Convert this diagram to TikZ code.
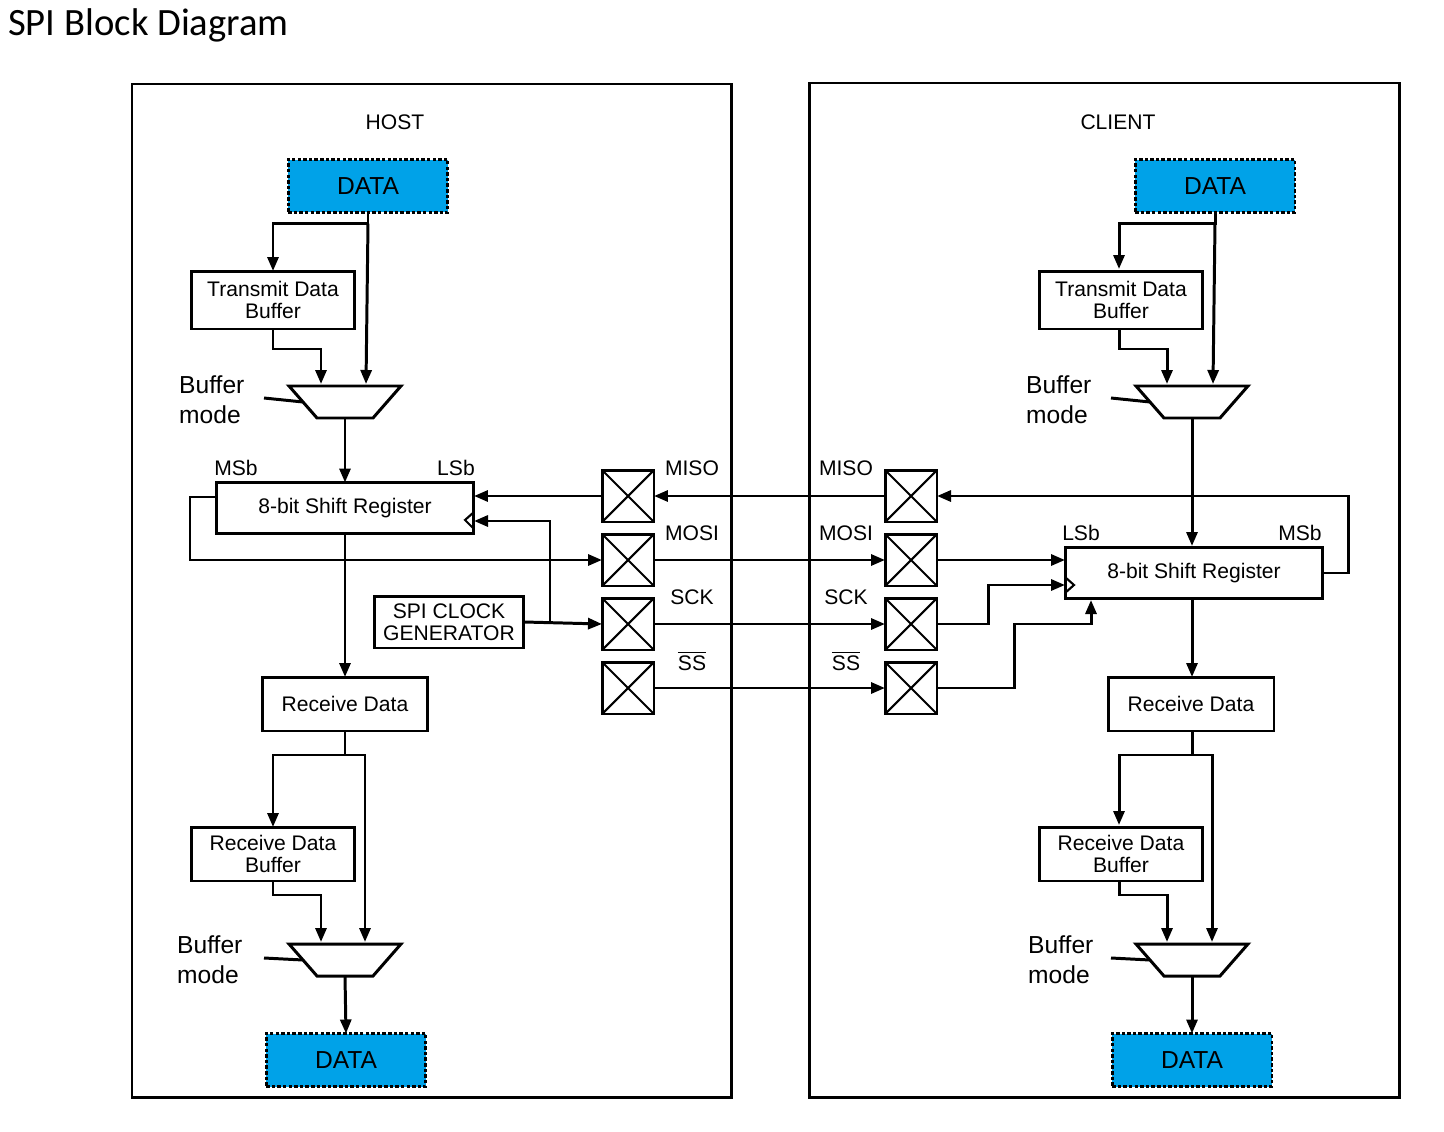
\documentclass[tikz,border=0pt]{standalone}
\usepackage{fontspec}
\setmainfont{Liberation Sans}
\newfontfamily\titlefont{Carlito}
\usetikzlibrary{arrows.meta,calc,positioning}

% ------------------------------------------------ spi colours and styles
\definecolor{spi_blue}{RGB}{0,162,232}
\tikzset{
  wire/.style={line width=1.7pt},
  arr/.style={wire,-{Triangle[length=0.28cm,width=0.22cm]}},
  blk/.style={draw,line width=1.7pt,inner sep=0,outer sep=0,align=center,
              font=\fontsize{12}{13}\selectfont},
  dat/.style={blk,fill=spi_blue,dash pattern=on 2pt off 1.2pt,
              minimum width=3.2cm,minimum height=1.06cm,font=\fontsize{14}{15}\selectfont},
  pin/.style={draw,line width=1.7pt,inner sep=0,outer sep=0,minimum size=1.04cm},
  lbl/.style={font=\fontsize{12}{13}\selectfont},
  mlbl/.style={font=\fontsize{14}{17}\selectfont,align=left,anchor=west},
}

% mux: name, centre x, top y
\newcommand{\spimux}[3]{
\draw[line width=1.7pt] (#2-56,#3) -- (#2+56,#3) -- (#2+28,#3+32) -- (#2-28,#3+32) -- cycle;
\coordinate (#1out) at (#2,#3+32);
\coordinate (#1l) at (#2-42,#3+16);
}

\begin{document}
\begin{tikzpicture}[x=0.02cm,y=-0.02cm]
\useasboundingbox (0,0) rectangle (1444,1132);
\node[anchor=west,font=\titlefont\fontsize{22}{24}\selectfont] at (2,25) {SPI Block Diagram};

% frames
\draw[line width=1.7pt] (132,84) rectangle (731,1097);
\draw[line width=1.7pt] (809,83) rectangle (1399,1097);
\node[lbl] (host) at (395,122) {HOST};
\node[lbl] (client) at (1118,122) {CLIENT};

% ------------------------------------------------ host
\node[dat] (hD) at (368,186) {DATA};
\node[blk,minimum width=3.26cm,minimum height=1.16cm] (hT) at (273,300) {Transmit Data\\Buffer};
\spimux{hM}{345}{386}
\node[mlbl] (hbm) at (173,400) {Buffer\\mode};
\node[blk,minimum width=5.16cm,minimum height=1.02cm] (hS) at (345,508) {8-bit Shift Register};
\node[lbl] (hmsb) at (236,468) {MSb};
\node[lbl] (hlsb) at (456,468) {LSb};
\node[blk,minimum width=3.0cm,minimum height=1.04cm,font=\fontsize{12}{12.5}\selectfont] (hG) at (449,622) {SPI CLOCK\\GENERATOR};
\node[blk,minimum width=3.32cm,minimum height=1.08cm] (hR) at (345,704) {Receive Data};
\node[blk,minimum width=3.26cm,minimum height=1.08cm] (hB) at (273,854) {Receive Data\\Buffer};
\spimux{hN}{345}{944}
\node[mlbl] (hbn) at (171,960) {Buffer\\mode};
\node[dat] (hE) at (346,1060) {DATA};

\draw[arr] (hD.south) -- ++(0,11) -| (hT.north);
\draw[arr] ($(hD.south)+(0,11)$) -- (366,384);
\draw[arr] (hT.south) -- ++(0,20) -| (321,384);
\draw[wire] (264,398) -- (hMl);
\draw[arr] (hMout) -- (hS.north);
\draw[line width=1.2pt] (474,512) -- (465,520) -- (474,529);
\draw[arr] (hS.south) -- (hR.north);
\draw[arr] (hR.south) -- ++(0,24) -| (hB.north);
\draw[arr] ($(hR.south)+(0,24)$) -| (365,942);
\draw[arr] (hB.south) -- ++(0,14) -| (321,942);
\draw[wire] (264,958) -- (hNl);
\draw[arr] (hNout) -- (hE.north);

% ------------------------------------------------ pins
\foreach \n/\x in {h/628,c/911}{
  \foreach \p/\y in {1/496,2/560,3/624,4/688}{
    \node[pin] (\n\p) at (\x,\y) {};
    \draw[line width=1.2pt] (\n\p.north west) -- (\n\p.south east) (\n\p.north east) -- (\n\p.south west);
  }
}
\foreach \x in {692,846}{
  \node[lbl] at (\x,468) {MISO};
  \node[lbl] at (\x,533) {MOSI};
  \node[lbl] at (\x,597) {SCK};
  \node[lbl] at (\x,661) {$\overline{\mbox{SS}}$};
}

\draw[arr] (h1.west) -- (hS.east |- h1.west);
\draw[arr] (hS.west |- 0,497) -- (190,497) |- (h2.west);
\draw[arr] (hG.east) -- (h3.west);
\draw[arr] (550,624) |- (474,521);
\draw[arr] (c1.west) -- (h1.east);
\draw[arr] (h2.east) -- (c2.west);
\draw[arr] (h3.east) -- (c3.west);
\draw[arr] (h4.east) -- (c4.west);

% ------------------------------------------------ client
\node[dat] (cD) at (1215,186) {DATA};
\node[blk,minimum width=3.26cm,minimum height=1.16cm] (cT) at (1121,300) {Transmit Data\\Buffer};
\spimux{cM}{1192}{386}
\node[mlbl] (cbm) at (1020,400) {Buffer\\mode};
\node[blk,minimum width=5.16cm,minimum height=1.02cm] (cS) at (1194,573) {8-bit Shift Register};
\node[lbl] (clsb) at (1081,533) {LSb};
\node[lbl] (cmsb) at (1300,533) {MSb};
\node[blk,minimum width=3.32cm,minimum height=1.08cm] (cR) at (1191,704) {Receive Data};
\node[blk,minimum width=3.26cm,minimum height=1.08cm] (cB) at (1121,854) {Receive Data\\Buffer};
\spimux{cN}{1192}{944}
\node[mlbl] (cbn) at (1022,960) {Buffer\\mode};
\node[dat] (cE) at (1192,1060) {DATA};

\draw[arr] (cD.south) -- ++(0,11) -| (1119,269);
\draw[arr] ($(cD.south)+(0,11)$) -- (1213,384);
\draw[arr] (1119,329) -- ++(0,20) -| (1167,384);
\draw[wire] (1111,398) -- (cMl);
\draw[arr] (cMout) -- (1192,546);
\draw[line width=1.2pt] (1065,577) -- (1074,585) -- (1065,593);
\draw[arr] (cS.east) -- (1348,573) |- (c1.east);
\draw[arr] (c2.east) -- (cS.west |- c2.east);
\draw[arr] (c3.east) -- (988,624) |- (cS.west |- 0,585);
\draw[arr] (c4.east) -- (1014,688) |- (1091,624) -- (1091,600);
\draw[arr] (1192,599) -- (cR.north -| 1192,0);
\draw[arr] (cR.south -| 1192,0) -- ++(0,24) -| (1119,825);
\draw[arr] (1192,755) -| (1212,942);
\draw[arr] (cB.south -| 1119,0) -- ++(0,14) -| (1167,942);
\draw[wire] (1111,958) -- (cNl);
\draw[arr] (cNout) -- (cE.north);
\end{tikzpicture}
\end{document}
